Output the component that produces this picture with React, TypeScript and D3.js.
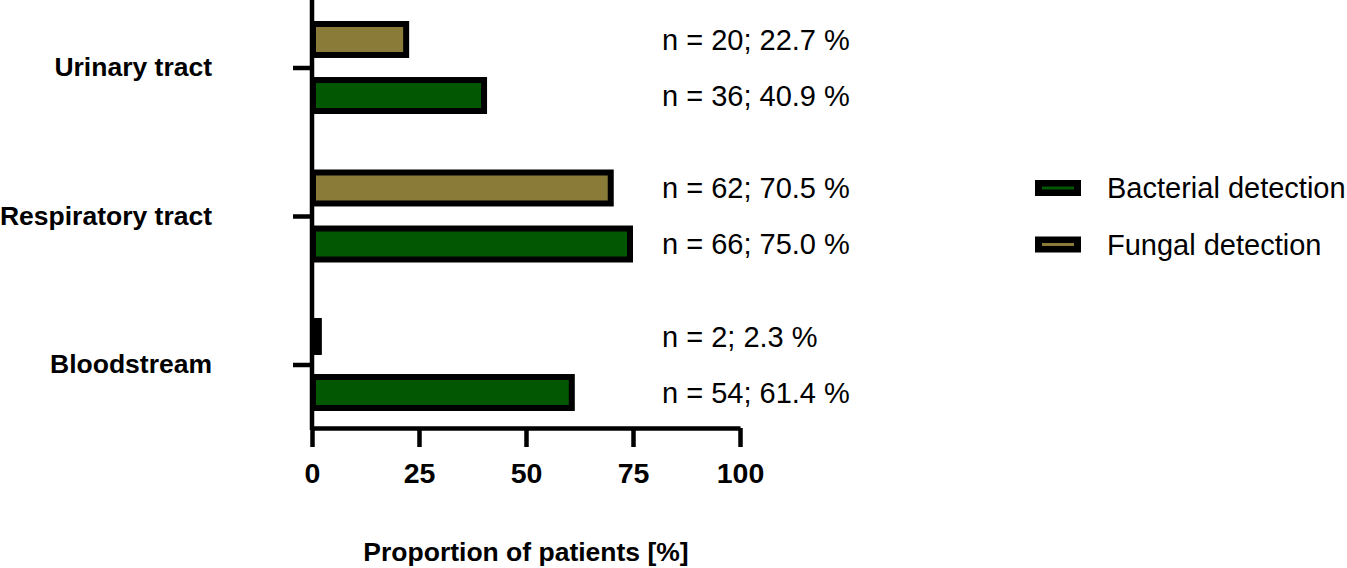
import * as d3 from "d3";
import { useEffect, useRef } from "react";

// categories top to bottom, as in the figure
const categories = ["Urinary tract", "Respiratory tract", "Bloodstream"];
const series = ["Fungal detection", "Bacterial detection"];

const fungalN = [20, 62, 2];
const fungalPct = [22.7, 70.5, 2.3];
const bacterialN = [36, 66, 54];
const bacterialPct = [40.9, 75.0, 61.4];

const xTicks = [0, 25, 50, 75, 100];
const legendOrder = ["Bacterial detection", "Fungal detection"];

const colors: { [key: string]: string } = {
  "Bacterial detection": "#025702",
  "Fungal detection": "#8b7b39",
};

const FONT = "'Liberation Sans', Arial, Helvetica, sans-serif";

export default function App() {
  const svgRef = useRef<SVGSVGElement | null>(null);

  useEffect(() => {
    if (!svgRef.current) return;
    const svg = d3.select(svgRef.current);
    svg.selectAll("*").remove();

    const width = 1347;
    const height = 568;
    const axisY = 428;

    svg.attr("width", width).attr("height", height);

    const x = d3.scaleLinear().domain([0, 100]).range([312, 740]);
    const y = d3.scaleBand().domain(categories).range([-6.25, 439.25]);
    const inner = d3.scaleBand().domain(series).range([-47, 46]).paddingInner(0.34);

    const rows = categories.flatMap((c, i) => [
      { cat: c, s: "Fungal detection", n: fungalN[i], pct: fungalPct[i] },
      { cat: c, s: "Bacterial detection", n: bacterialN[i], pct: bacterialPct[i] },
    ]);

    const center = (c: string) => (y(c) ?? 0) + y.bandwidth() / 2;
    const bw = inner.bandwidth();
    const sw = 6;

    // bars
    svg.append("g")
      .selectAll("rect")
      .data(rows)
      .enter()
      .append("rect")
      .attr("x", x(0) + 1)
      .attr("y", (d) => center(d.cat) + (inner(d.s) ?? 0) + sw / 2)
      .attr("width", (d) => Math.max(0, x(d.pct) - sw / 2 - x(0) - 1))
      .attr("height", bw - sw)
      .attr("fill", (d) => colors[d.s])
      .attr("stroke", "#000")
      .attr("stroke-width", sw);

    // value labels
    svg.append("g")
      .selectAll("text")
      .data(rows)
      .enter()
      .append("text")
      .attr("x", 662)
      .attr("y", (d) => center(d.cat) + (inner(d.s) ?? 0) + bw / 2)
      .attr("dy", "0.35em")
      .style("font-family", FONT)
      .style("font-size", "29px")
      .attr("fill", "#000")
      .text((d) => `n = ${d.n}; ${d.pct.toFixed(1)} %`);

    // y axis
    svg.append("line")
      .attr("x1", x(0)).attr("x2", x(0))
      .attr("y1", 0).attr("y2", axisY + 2)
      .attr("stroke", "#000").attr("stroke-width", 4.5);

    const yAxis = svg.append("g")
      .attr("transform", `translate(${x(0)},0)`)
      .call(
        d3.axisLeft(y).tickSize(19).tickSizeOuter(0).tickPadding(81)
      );
    yAxis.select(".domain").remove();
    yAxis.selectAll("line").attr("stroke", "#000").attr("stroke-width", 4.5);
    yAxis.selectAll("text")
      .style("font-family", FONT)
      .style("font-size", "26.5px")
      .style("font-weight", "bold")
      .attr("fill", "#000");

    // x axis
    const xAxis = svg.append("g")
      .attr("transform", `translate(0,${axisY})`)
      .call(
        d3.axisBottom(x).tickValues(xTicks).tickSize(19).tickSizeOuter(0).tickPadding(16)
      );
    xAxis.select(".domain").attr("stroke", "#000").attr("stroke-width", 4.5);
    xAxis.selectAll("line").attr("stroke", "#000").attr("stroke-width", 4.5);
    xAxis.selectAll("text")
      .style("font-family", FONT)
      .style("font-size", "28.5px")
      .style("font-weight", "bold")
      .attr("fill", "#000");

    svg.append("text")
      .attr("x", x(50))
      .attr("y", 561)
      .attr("text-anchor", "middle")
      .style("font-family", FONT)
      .style("font-size", "26.5px")
      .style("font-weight", "bold")
      .text("Proportion of patients [%]");

    // legend
    const legend = svg.append("g")
      .selectAll("g")
      .data(legendOrder)
      .enter()
      .append("g")
      .attr("transform", (_d, i) => `translate(1035,${188 + i * 56.5})`);

    legend.append("rect")
      .attr("x", 0).attr("y", -8)
      .attr("width", 46).attr("height", 16)
      .attr("fill", "#000");
    legend.append("rect")
      .attr("x", 7).attr("y", -1.5)
      .attr("width", 32).attr("height", 3)
      .attr("fill", (d) => colors[d]);
    legend.append("text")
      .attr("x", 72)
      .attr("y", 0)
      .attr("dy", "0.35em")
      .style("font-family", FONT)
      .style("font-size", "29px")
      .text((d) => d);
  }, []);

  return (
    <div style={{ position: "absolute", left: 0, top: 0, background: "#fff" }}>
      <svg ref={svgRef} style={{ display: "block" }}></svg>
    </div>
  );
}
